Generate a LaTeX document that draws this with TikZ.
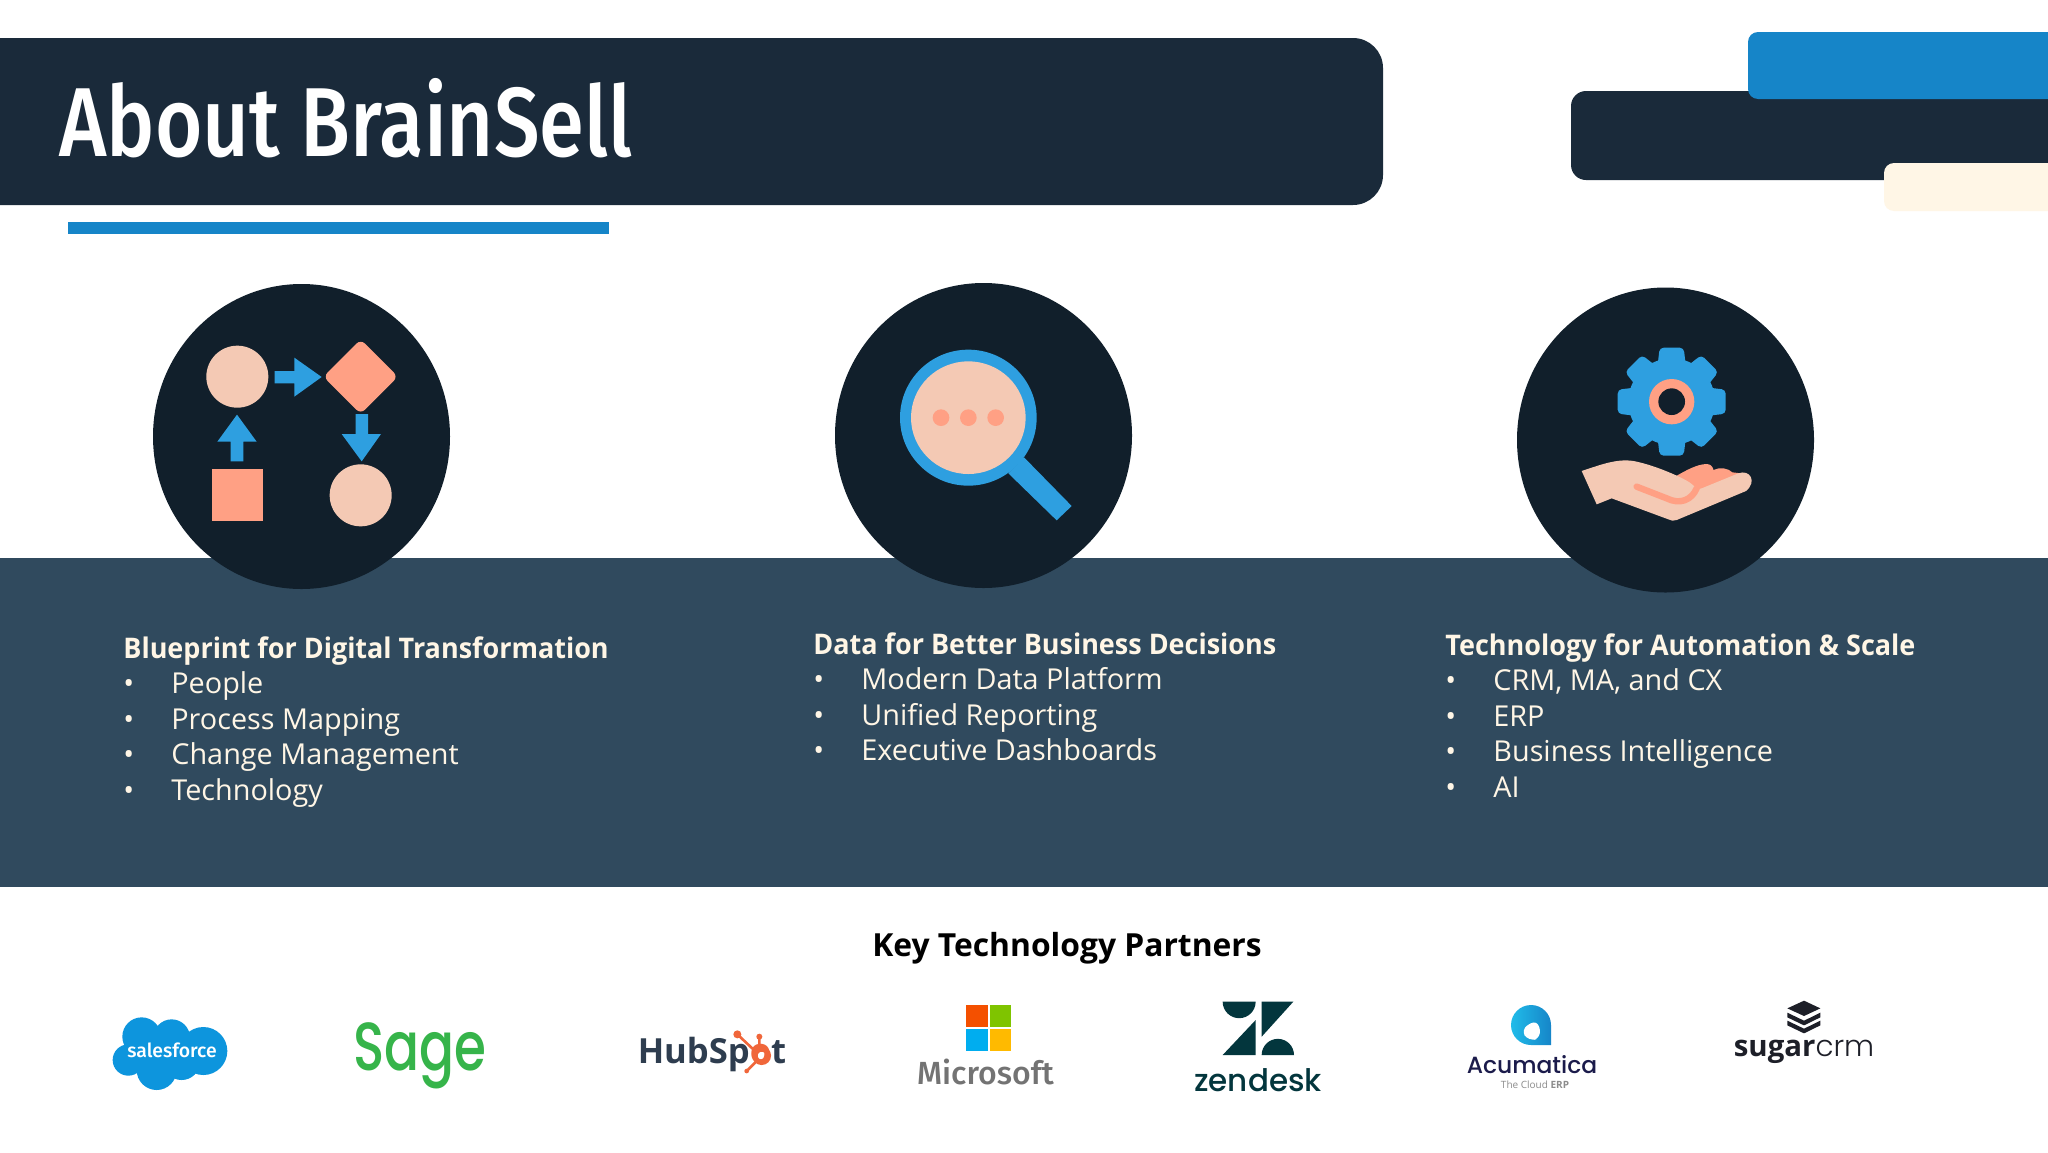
\documentclass[tikz,border=0pt]{standalone}
\usepackage{fontspec}
\usetikzlibrary{positioning}
\setmainfont{Open Sans}
\newfontfamily\titlefont[FakeStretch=0.83]{Fira Sans Medium}
\newfontfamily\headfont[FakeStretch=0.95]{Open Sans}
\newfontfamily\semifont{Fira Sans Medium}
\newfontfamily\sagefont[FakeStretch=0.76]{Poppins Medium}
\newfontfamily\logolight{Poppins Light}
\newfontfamily\logomed{Poppins Medium}
\newcommand{\bul}{\makebox[24pt][l]{\textbullet}}
\definecolor{barnavy}{HTML}{1A2A3A}
\definecolor{discnavy}{HTML}{111F2B}
\definecolor{bandblue}{HTML}{304A5E}
\definecolor{iconblue}{HTML}{2E9FE0}
\definecolor{deepblue}{HTML}{1685C8}
\definecolor{salmon}{HTML}{FFA084}
\definecolor{peach}{HTML}{F4C9B4}
\definecolor{creamy}{HTML}{FFF6E6}
\definecolor{sfblue}{HTML}{0D95DD}
\definecolor{sagegreen}{HTML}{36B44A}
\definecolor{hubdark}{HTML}{2E3D4F}
\definecolor{huborange}{HTML}{F0663A}
\definecolor{zengreen}{HTML}{03363D}
\definecolor{acunavy}{HTML}{1B1B4B}
\definecolor{sugardark}{HTML}{1D1F28}
\definecolor{msred}{HTML}{F45000}
\definecolor{msgreen}{HTML}{7FC400}
\definecolor{msblue}{HTML}{00ADEF}
\definecolor{msyellow}{HTML}{FFBA00}

\begin{document}
\begin{tikzpicture}
[
  x=0.5pt,
  y=-0.5pt,
  node distance=17.8pt,
  on grid,
  disc/.style={fill=discnavy},
  headline/.style={anchor=west, inner sep=0pt, text=creamy, font=\headfont\bfseries\fontsize{14.2}{16}\selectfont, text height=11pt, text depth=3pt},
  entry/.style={anchor=west, inner sep=0pt, text=creamy, font=\fontsize{14.4}{16}\selectfont, text height=11pt, text depth=3pt},
  logotext/.style={inner sep=0pt}
]
 \useasboundingbox (0,0) rectangle (2048,1152);
 \clip (0,0) rectangle (2048,1152);
 \fill[white] (0,0) rectangle (2048,1152);

 % header
 \fill[barnavy, rounded corners=15pt] (-80,38) rectangle (1383,205);
 \fill[deepblue] (68,222) rectangle (609,234);
 \fill[barnavy, rounded corners=7.5pt] (1571,91) rectangle (2140,180);
 \fill[deepblue, rounded corners=5pt] (1748,32) rectangle (2140,99);
 \fill[creamy, rounded corners=5pt] (1884,163) rectangle (2140,211);
 \node[anchor=west, inner sep=0pt, text=white, font=\titlefont\fontsize{49}{60}\selectfont] (title) at (59,118) {About BrainSell};

 % band and discs
 \fill[bandblue] (0,558) rectangle (2048,887);
 \fill[disc] (301.5,436.5) ellipse [x radius=148.5, y radius=152.5];
 \fill[disc] (983.5,435.5) ellipse [x radius=148.5, y radius=152.5];
 \fill[disc] (1665.5,440) ellipse [x radius=148.5, y radius=152.5];

 % process icon
 \begin{scope}[shift={(100,260)}, scale=1/3]
  \fill[peach] (412,350) circle [radius=93];
  \fill[peach] (782,706) circle [radius=93];
  \fill[salmon] (335,628) rectangle (490,784);
  \fill[salmon, rounded corners=3pt] (782,238) -- (894,350) -- (782,462) -- (670,350) -- cycle;
  \fill[iconblue] (524,333) -- (583,333) -- (583,293) -- (665,351) -- (583,410) -- (583,370) -- (524,370) -- cycle;
  \fill[iconblue] (767,462) -- (804,462) -- (804,522) -- (843,522) -- (785,604) -- (725,522) -- (767,522) -- cycle;
  \fill[iconblue] (392,604) -- (430,604) -- (430,545) -- (470,545) -- (411,464) -- (352,545) -- (392,545) -- cycle;
 \end{scope}

 % magnifier icon
 \begin{scope}[shift={(800,260)}, scale=1/3]
  \fill[iconblue] (672,592) -- (815,738) -- (770,781) -- (625,640) -- cycle;
  \fill[iconblue] (505,473) ellipse [x radius=205, y radius=204];
  \fill[peach] (505,473) ellipse [x radius=172, y radius=169];
  \foreach \dotx in {423,505,587}
    \fill[salmon] (\dotx,473) circle [radius=25];
 \end{scope}

 % gear and hand icon
 \begin{scope}[shift={(1500,270)}, scale=1/3]
  \foreach \toothang in {0,45,...,315}
    \fill[iconblue, rounded corners=2pt, rotate around={\toothang:(515,395)}] (471,300) -- (479,233) -- (551,233) -- (559,300) -- cycle;
  \fill[iconblue] (515,395) circle [radius=130];
  \fill[salmon] (515,395) circle [radius=68];
  \fill[discnavy] (515,395) circle [radius=40];
  \fill[salmon] (525,620) .. controls (560,600) and (590,583) .. (620,582) .. controls (635,582) and (640,595) .. (640,600) .. controls (660,590) and (685,595) .. (697,607) -- (722,610) -- (640,690) -- (560,680) -- cycle;
  \fill[peach] (245,603) .. controls (300,585) and (350,565) .. (400,573) .. controls (450,582) and (520,610) .. (560,632) .. controls (585,645) and (590,665) .. (605,655) -- (715,610) .. controls (750,597) and (772,635) .. (738,663) -- (530,750) .. controls (520,754) and (515,752) .. (505,748) -- (335,685) -- (290,703) -- cycle;
  \draw[salmon, line width=3.2pt, line cap=round] (410,650) -- (500,685) .. controls (540,705) and (575,690) .. (590,655);
 \end{scope}

 % text columns
 \node[headline] (plan0) at (123,650) {Blueprint for Digital Transformation};
 \node[entry, below=of plan0.west, anchor=west] (plan1) {\bul People};
 \node[entry, below=of plan1.west, anchor=west] (plan2) {\bul Process Mapping};
 \node[entry, below=of plan2.west, anchor=west] (plan3) {\bul Change Management};
 \node[entry, below=of plan3.west, anchor=west] (plan4) {\bul Technology};

 \node[headline] (data0) at (813,646) {Data for Better Business Decisions};
 \node[entry, below=of data0.west, anchor=west] (data1) {\bul Modern Data Platform};
 \node[entry, below=of data1.west, anchor=west] (data2) {\bul Unified Reporting};
 \node[entry, below=of data2.west, anchor=west] (data3) {\bul Executive Dashboards};

 \node[headline] (tech0) at (1445,647) {Technology for Automation \& Scale};
 \node[entry, below=of tech0.west, anchor=west] (tech1) {\bul CRM, MA, and CX};
 \node[entry, below=of tech1.west, anchor=west] (tech2) {\bul ERP};
 \node[entry, below=of tech2.west, anchor=west] (tech3) {\bul Business Intelligence};
 \node[entry, below=of tech3.west, anchor=west] (tech4) {\bul AI};

 \node[inner sep=0pt, font=\fontsize{15.9}{18}\selectfont\bfseries] (partners) at (1067,948.5) {Key Technology Partners};

 % salesforce
 \begin{scope}[shift={(100,1005)}, scale=1/3]
  \fill[sfblue] (85,165) circle [radius=47] (125,95) circle [radius=58] (215,98) circle [radius=55] (310,138) circle [radius=72] (170,195) circle [radius=60] (245,170) circle [radius=55] (180,130) circle [radius=60];
 \end{scope}
 \node[logotext, text=white, font=\semifont\fontsize{9.7}{11}\selectfont] (sforce) at (172,1050) {salesforce};

 % sage
 \node[logotext, text=sagegreen, font=\sagefont\fontsize{34}{40}\selectfont, anchor=base west] (sage) at (353,1070) {Sage};

 % hubspot
 \node[logotext, text=hubdark, font=\bfseries\fontsize{17.3}{20}\selectfont, anchor=base] (hub) at (712,1063) {HubSp\textcolor{huborange}{o}t};
 \begin{scope}[shift={(630,1015)}, scale=1/3]
  \draw[huborange, line width=2.65pt] (395,122) circle [radius=20];
  \draw[huborange, line width=1.3pt] (372,105) -- (322,58) (388,100) -- (388,65) (378,140) -- (350,168);
  \fill[huborange] (322,58) circle [radius=12] (388,65) circle [radius=9] (350,168) circle [radius=7];
 \end{scope}

 % microsoft
 \fill[msred] (966,1005) rectangle (988,1027);
 \fill[msgreen] (990,1005) rectangle (1011,1027);
 \fill[msblue] (966,1029) rectangle (988,1051);
 \fill[msyellow] (990,1029) rectangle (1011,1051);
 \node[logotext, text=black!55, font=\semifont\fontsize{16}{18}\selectfont] (msft) at (985.5,1072) {Microsoft};

 % zendesk
 \begin{scope}[shift={(890,990)}, scale=1/3]
  \fill[zengreen] (998,35) -- (1097,35) arc [start angle=0, end angle=180, radius=49.5] -- cycle;
  \fill[zengreen] (1097,90) -- (1097,195) -- (998,195) -- cycle;
  \fill[zengreen] (1115,35) -- (1210,35) -- (1115,140) -- cycle;
  \fill[zengreen] (1115,195) arc [start angle=180, end angle=360, radius=48.5] -- cycle;
 \end{scope}
 \node[logotext, text=zengreen, font=\logomed\fontsize{15.5}{18}\selectfont] (zen) at (1258,1080) {zendesk};

 % acumatica
 \begin{scope}[shift={(1430,990)}, scale=1/3]
  \shade[left color=iconblue!70!cyan, right color=deepblue] (363,105) arc [start angle=0, end angle=-270, radius=60] -- (363,165) -- cycle;
  \fill[white, rounded corners=4pt] (272,118) -- (322,88) -- (335,142) -- (296,155) -- cycle;
 \end{scope}
 \node[logotext, text=acunavy, font=\logomed\fontsize{11.7}{14}\selectfont, anchor=base] (acu) at (1532,1073) {Acumatica};
 \node[logotext, text=black!45, font=\fontsize{5}{6}\selectfont, anchor=base] (acucloud) at (1535,1088) {The Cloud \textbf{ERP}};

 % sugarcrm
 \begin{scope}[shift={(1430,990)}, scale=1/3]
  \fill[sugardark] (1122,32) -- (1171,55) -- (1122,78) -- (1072,55) -- cycle;
  \fill[sugardark] (1072,68) -- (1122,92) -- (1171,68) -- (1171,82) -- (1122,106) -- (1072,82) -- cycle;
  \fill[sugardark] (1072,92) -- (1122,116) -- (1171,92) -- (1171,106) -- (1122,130) -- (1072,106) -- cycle;
 \end{scope}
 \node[logotext, text=sugardark, font=\fontsize{14.7}{18}\selectfont, anchor=base] (sugar) at (1804,1056) {\textbf{sugar}{\logolight crm}};
\end{tikzpicture}
\end{document}
